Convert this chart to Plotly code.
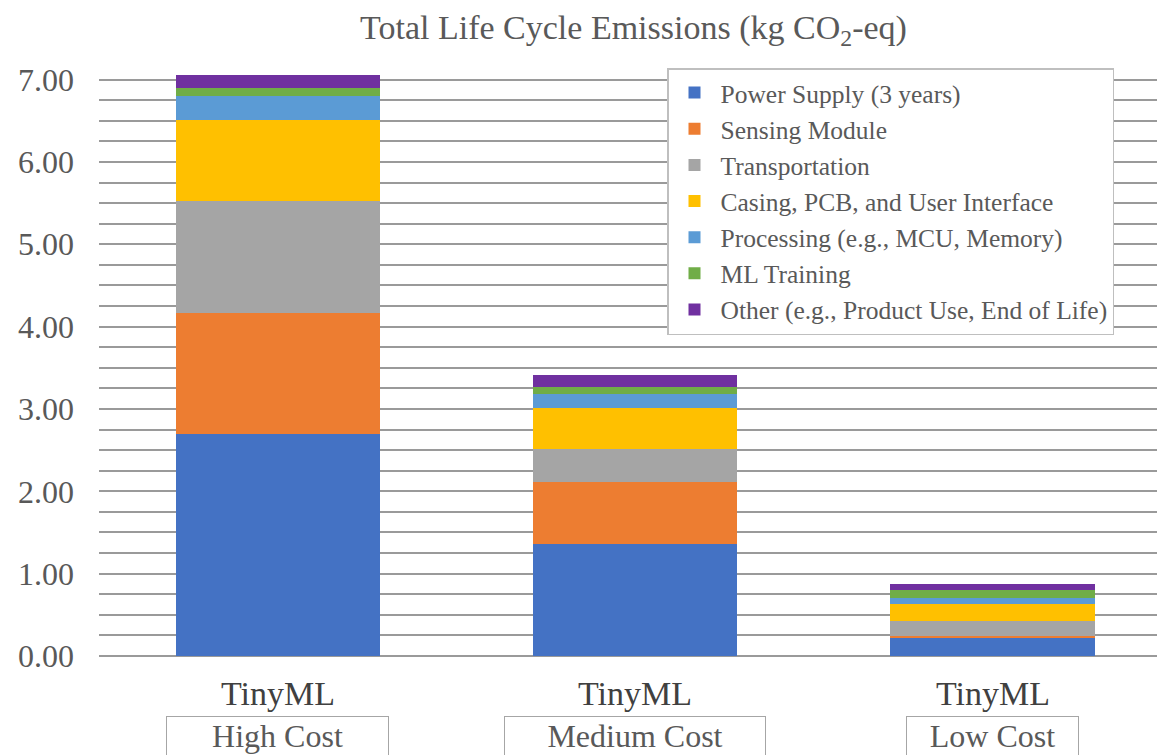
import plotly.graph_objects as go

categories = ["High Cost", "Medium Cost", "Low Cost"]
group_label = "TinyML"

series_names = [
    "Power Supply (3 years)",
    "Sensing Module",
    "Transportation",
    "Casing, PCB, and User Interface",
    "Processing (e.g., MCU, Memory)",
    "ML Training",
    "Other (e.g., Product Use, End of Life)",
]
power_supply = [2.70, 1.36, 0.23]
sensing_module = [1.47, 0.75, 0.01]
transportation = [1.35, 0.40, 0.18]
casing_pcb_ui = [0.99, 0.50, 0.21]
processing = [0.29, 0.17, 0.08]
ml_training = [0.10, 0.09, 0.09]
other = [0.15, 0.14, 0.075]

series_values = [power_supply, sensing_module, transportation, casing_pcb_ui,
                 processing, ml_training, other]
colors = ["#4472C4", "#ED7D31", "#A5A5A5", "#FFC000", "#5B9BD5", "#70AD47", "#7030A0"]

y_ticks = [0, 1, 2, 3, 4, 5, 6, 7]

FONT = "Liberation Serif"
TXT = "#595959"

fig = go.Figure()
xs = list(range(len(categories)))
for name, vals, col in zip(series_names, series_values, colors):
    fig.add_trace(go.Bar(
        x=xs, y=vals, name=name, marker=dict(color=col, line=dict(width=0)),
        width=0.572,
    ))

box_widths = [221, 260, 171]
for i, cat in enumerate(categories):
    fig.add_annotation(x=i, y=-0.062, xref="x", yref="paper", text=group_label,
                       showarrow=False, yanchor="middle",
                       font=dict(family=FONT, size=34, color="#404040"))
    fig.add_annotation(x=i, y=-0.1005, xref="x", yref="paper", text=cat,
                       showarrow=False, yanchor="top", width=box_widths[i], height=38,
                       bordercolor="#a6a6a6", borderwidth=1, borderpad=0,
                       font=dict(family=FONT, size=32, color=TXT))

fig.update_layout(
    width=1157, height=747,
    barmode="stack",
    paper_bgcolor="white", plot_bgcolor="white",
    margin=dict(l=91, r=0, t=51, b=99),
    title=dict(text="Total Life Cycle Emissions (kg CO<sub>2</sub>-eq)",
               x=625.5 / 1157, xanchor="center", y=1 - 19 / 747, yanchor="middle",
               font=dict(family=FONT, size=34, color=TXT)),
    xaxis=dict(range=[-0.5, 2.482], showticklabels=False, showgrid=False,
               zeroline=False, showline=False, tickvals=xs),
    yaxis=dict(range=[0, 7.25], tickvals=y_ticks, tickformat=".2f",
               showgrid=True, gridcolor="#9a9a9a", gridwidth=1.5,
               zeroline=True, zerolinecolor="#9a9a9a", zerolinewidth=1.5,
               showline=False, ticks="", ticklabelstandoff=24,
               tickfont=dict(family=FONT, size=32, color=TXT),
               minor=dict(dtick=0.25, showgrid=True, gridcolor="#9a9a9a", gridwidth=1.5)),
    legend=dict(x=(667 - 99) / 1066, y=(656 - 68) / 597, xanchor="left", yanchor="top",
                bgcolor="white", bordercolor="#bfbfbf", borderwidth=1.5,
                traceorder="normal", itemwidth=42,
                font=dict(family=FONT, size=25.5, color=TXT)),
    bargap=0.4,
)

fig.write_html("out.html")
